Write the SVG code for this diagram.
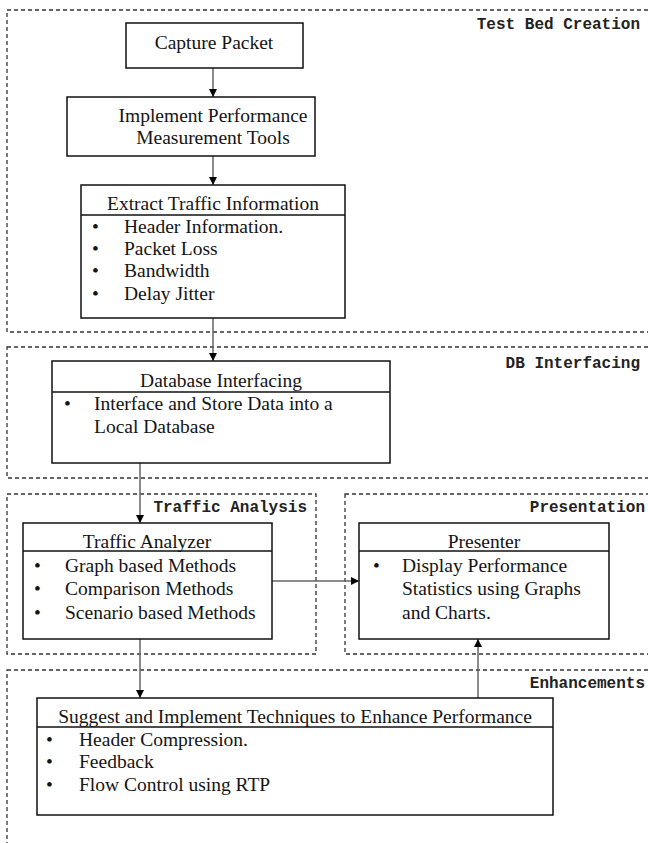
<svg xmlns="http://www.w3.org/2000/svg" width="648" height="843" viewBox="0 0 648 843">
<defs>
<style>
.region{fill:none;stroke:#333;stroke-width:1.3;stroke-dasharray:4,3}
.box{fill:#fff;stroke:#111;stroke-width:1.5}
.div{stroke:#111;stroke-width:1.5}
.t{font-family:"Liberation Serif","Times New Roman",serif;font-size:19.5px;fill:#141414}
.c{text-anchor:middle}
.lbl{font-family:"Liberation Mono","Courier New",monospace;font-size:16px;font-weight:bold;fill:#222;text-anchor:end}
.conn{stroke:#666;stroke-width:1.5;fill:none;marker-end:url(#ah)}
</style>
<marker id="ah" viewBox="0 0 10 10" refX="10" refY="5" markerWidth="8" markerHeight="8" markerUnits="userSpaceOnUse" orient="auto">
<path d="M0,0 L10,5 L0,10 z" fill="#000"/>
</marker>
</defs>
<rect width="648" height="843" fill="#fff"/>

<g id="regions">
<rect class="region" x="7" y="10" width="700" height="322"/>
<text class="lbl" x="640" y="29">Test Bed Creation</text>
<rect class="region" x="7" y="347" width="700" height="131"/>
<text class="lbl" x="640" y="368">DB Interfacing</text>
<rect class="region" x="7" y="494" width="309" height="160"/>
<text class="lbl" x="307" y="512">Traffic Analysis</text>
<rect class="region" x="345" y="494" width="360" height="160"/>
<text class="lbl" x="645" y="512">Presentation</text>
<rect class="region" x="7" y="670" width="700" height="200"/>
<text class="lbl" x="645" y="688">Enhancements</text>
</g>

<g id="connectors">
<line class="conn" x1="213" y1="68" x2="213" y2="97"/>
<line class="conn" x1="213" y1="156" x2="213" y2="185"/>
<line class="conn" x1="213" y1="318" x2="213" y2="361"/>
<line class="conn" x1="140" y1="463" x2="140" y2="523"/>
<line class="conn" x1="272" y1="581" x2="359" y2="581"/>
<line class="conn" x1="140" y1="639" x2="140" y2="698"/>
<line class="conn" x1="478" y1="698" x2="478" y2="639"/>
</g>

<g id="capture">
<rect class="box" x="126" y="23" width="177" height="45"/>
<text class="t c" x="214" y="49">Capture Packet</text>
</g>

<g id="implement">
<rect class="box" x="67" y="97" width="248" height="59"/>
<text class="t c" x="213" y="122">Implement Performance</text>
<text class="t c" x="213" y="144">Measurement Tools</text>
</g>

<g id="extract">
<rect class="box" x="81" y="185" width="264" height="133"/>
<line class="div" x1="81" y1="215" x2="345" y2="215"/>
<text class="t c" x="213" y="210">Extract Traffic Information</text>
<text class="t" x="92" y="233">•</text><text class="t" x="124" y="233">Header Information.</text>
<text class="t" x="92" y="255">•</text><text class="t" x="124" y="255">Packet Loss</text>
<text class="t" x="92" y="277">•</text><text class="t" x="124" y="277">Bandwidth</text>
<text class="t" x="92" y="300">•</text><text class="t" x="124" y="300">Delay Jitter</text>
</g>

<g id="database">
<rect class="box" x="52" y="361" width="338" height="102"/>
<line class="div" x1="52" y1="392" x2="390" y2="392"/>
<text class="t c" x="221" y="387">Database Interfacing</text>
<text class="t" x="64" y="410">•</text><text class="t" x="94" y="410">Interface and Store Data into a</text>
<text class="t" x="94" y="433">Local Database</text>
</g>

<g id="analyzer">
<rect class="box" x="23" y="523" width="249" height="116"/>
<line class="div" x1="23" y1="551" x2="272" y2="551"/>
<text class="t c" x="147" y="548">Traffic Analyzer</text>
<text class="t" x="34" y="572">•</text><text class="t" x="65" y="572">Graph based Methods</text>
<text class="t" x="34" y="595">•</text><text class="t" x="65" y="595">Comparison Methods</text>
<text class="t" x="34" y="619">•</text><text class="t" x="65" y="619">Scenario based Methods</text>
</g>

<g id="presenter">
<rect class="box" x="359" y="523" width="250" height="116"/>
<line class="div" x1="359" y1="551" x2="609" y2="551"/>
<text class="t c" x="484" y="548">Presenter</text>
<text class="t" x="373" y="572">•</text><text class="t" x="402" y="572">Display Performance</text>
<text class="t" x="402" y="595">Statistics using Graphs</text>
<text class="t" x="402" y="619">and Charts.</text>
</g>

<g id="enhance">
<rect class="box" x="37" y="698" width="516" height="117"/>
<line class="div" x1="37" y1="727" x2="553" y2="727"/>
<text class="t c" x="295" y="723">Suggest and Implement Techniques to Enhance Performance</text>
<text class="t" x="46" y="746">•</text><text class="t" x="79" y="746">Header Compression.</text>
<text class="t" x="46" y="768">•</text><text class="t" x="79" y="768">Feedback</text>
<text class="t" x="46" y="791">•</text><text class="t" x="79" y="791">Flow Control using RTP</text>
</g>
</svg>
